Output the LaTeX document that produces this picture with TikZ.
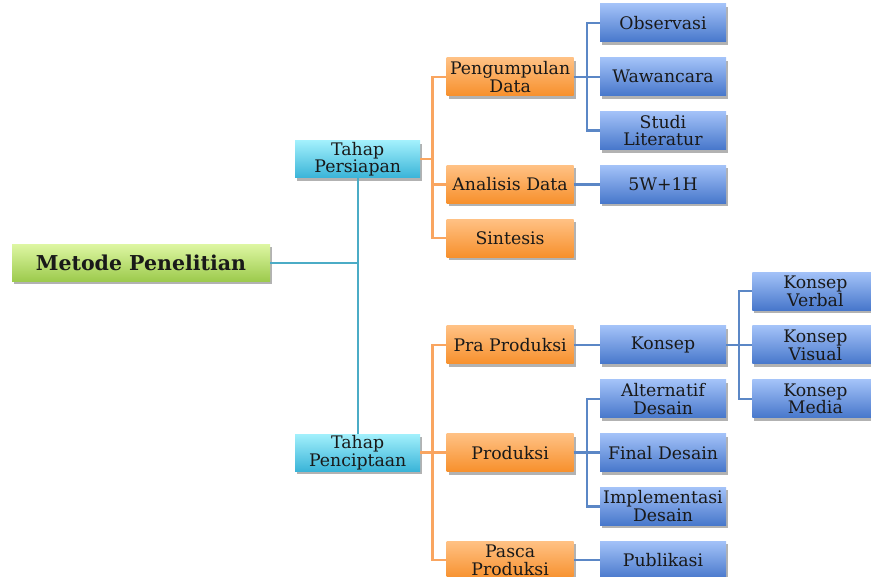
\documentclass[tikz,border=0pt]{standalone}
\usepackage{fontspec}
\setmainfont{DejaVu Serif}
\usetikzlibrary{positioning,shadows}
\definecolor{hijauA}{HTML}{DDF6A2}
\definecolor{hijauB}{HTML}{9CCA4C}
\definecolor{tosqA}{HTML}{A2F0FC}
\definecolor{tosqB}{HTML}{3AB4D8}
\definecolor{oranyeA}{HTML}{FFC184}
\definecolor{oranyeB}{HTML}{F7902C}
\definecolor{biruA}{HTML}{A3C2F8}
\definecolor{biruB}{HTML}{4777CB}
\definecolor{garisT}{HTML}{4BACC6}
\definecolor{garisO}{HTML}{F9A560}
\definecolor{garisB}{HTML}{5B87C6}
\tikzstyle{kotak}=[rectangle, inner sep=0pt, text centered, align=center, text=black!90, minimum height=38pt, minimum width=126pt, font=\fontsize{17.3}{17.8}\selectfont, drop shadow={shadow xshift=2pt, shadow yshift=-3pt, opacity=0.3, fill=black}]
\tikzstyle{utama}=[kotak, minimum width=258pt, minimum height=37pt, top color=hijauA, bottom color=hijauB, font=\fontsize{20.5}{23}\selectfont\bfseries]
\tikzstyle{tahap}=[kotak, minimum width=125pt, minimum height=37pt, top color=tosqA, bottom color=tosqB]
\tikzstyle{oranye}=[kotak, minimum width=127pt, top color=oranyeA, bottom color=oranyeB]
\tikzstyle{biru}=[kotak, top color=biruA, bottom color=biruB]
\begin{document}
\begin{tikzpicture}[
        x=1pt, y=1pt,
        node distance = 15.4pt and 26pt,
        tline/.style={draw=garisT, line width=2.4pt},
        oline/.style={draw=garisO, line width=2.4pt},
        bline/.style={draw=garisB, line width=2.4pt},
      ]
      \useasboundingbox (0,0) rectangle (871,-577);
      % kolom biru
      \node (Observasi) [biru] at (663,-23) {Observasi};
      \node (Wawancara) [biru, below=of Observasi] {Wawancara};
      \node (Studi) [biru, below=of Wawancara] {Studi\\Literatur};
      \node (WH) [biru, below=of Studi] {5W+1H};
      \node (Konsep) [biru, below=122.2pt of WH] {Konsep};
      \node (Alternatif) [biru, below=of Konsep] {Alternatif\\Desain};
      \node (Final) [biru, below=of Alternatif] {Final Desain};
      \node (Implementasi) [biru, below=of Final] {Implementasi\\Desain};
      \node (Publikasi) [biru, below=of Implementasi] {Publikasi};
      % konsep
      \node (Visual) [biru, right=of Konsep] {Konsep\\Visual};
      \node (Verbal) [biru, above=of Visual] {Konsep\\Verbal};
      \node (Media) [biru, below=of Visual] {Konsep\\Media};
      % kolom oranye
      \node (Pengumpulan) [oranye, left=of Wawancara] {Pengumpulan\\Data};
      \node (Analisis) [oranye, left=of WH] {Analisis Data};
      \node (Sintesis) [oranye, below=of Analisis] {Sintesis};
      \node (Pra) [oranye, left=of Konsep] {Pra Produksi};
      \node (Produksi) [oranye, left=of Final] {Produksi};
      \node (Pasca) [oranye, left=of Publikasi] {Pasca\\Produksi};
      % tahap
      \node (Penciptaan) [tahap, left=of Produksi] {Tahap\\Penciptaan};
      \node (Persiapan) [tahap, above=256pt of Penciptaan] {Tahap\\Persiapan};
      \node (Metode) [utama] at (141,-263) {Metode Penelitian};
      % garis
      \draw [tline] (Metode.east) -| (Persiapan.south);
      \draw [tline] (Metode.east) -| (Penciptaan.north);
      \draw [oline] (Persiapan.east) -- ++(12,0) |- (Pengumpulan.west);
      \draw [oline] (Persiapan.east) -- ++(12,0) |- (Analisis.west);
      \draw [oline] (Persiapan.east) -- ++(12,0) |- (Sintesis.west);
      \draw [oline] (Penciptaan.east) -- ++(12,0) |- (Pra.west);
      \draw [oline] (Penciptaan.east) -- ++(12,0) |- (Produksi.west);
      \draw [oline] (Penciptaan.east) -- ++(12,0) |- (Pasca.west);
      \draw [bline] (Pengumpulan.east) -- ++(13,0) |- (Observasi.west);
      \draw [bline] (Pengumpulan.east) -- (Wawancara.west);
      \draw [bline] (Pengumpulan.east) -- ++(13,0) |- (Studi.west);
      \draw [bline] (Analisis) -- (WH);
      \draw [bline] (Pra) -- (Konsep);
      \draw [bline] (Konsep.east) -- ++(13,0) |- (Verbal.west);
      \draw [bline] (Konsep) -- (Visual);
      \draw [bline] (Konsep.east) -- ++(13,0) |- (Media.west);
      \draw [bline] (Produksi.east) -- ++(13,0) |- (Alternatif.west);
      \draw [bline] (Produksi) -- (Final);
      \draw [bline] (Produksi.east) -- ++(13,0) |- (Implementasi.west);
      \draw [bline] (Pasca) -- (Publikasi);
    \end{tikzpicture}
\end{document}
